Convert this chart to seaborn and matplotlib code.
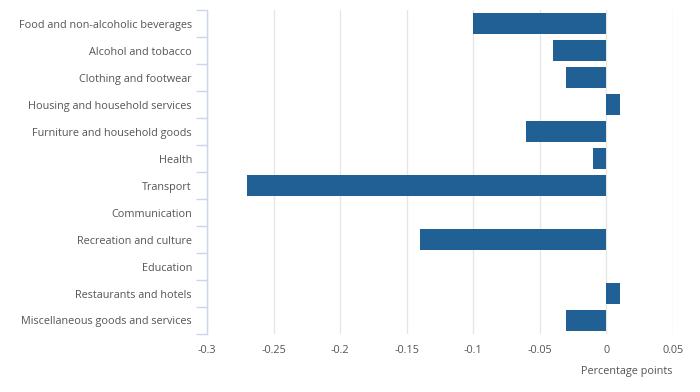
import pandas as pd
import matplotlib.pyplot as plt
import matplotlib.ticker as mticker
import seaborn as sns

categorias = [
    "Food and non-alcoholic beverages",
    "Alcohol and tobacco",
    "Clothing and footwear",
    "Housing and household services",
    "Furniture and household goods",
    "Health",
    "Transport",
    "Communication",
    "Recreation and culture",
    "Education",
    "Restaurants and hotels",
    "Miscellaneous goods and services",
]
valores = [-0.10, -0.04, -0.03, 0.01, -0.06, -0.01, -0.27, 0.0, -0.14, 0.0, 0.01, -0.03]
xticks = [-0.3, -0.25, -0.2, -0.15, -0.1, -0.05, 0, 0.05]
xtick_labels = ["-0.3", "-0.25", "-0.2", "-0.15", "-0.1", "-0.05", "0", "0.05"]

df = pd.DataFrame({"Categoria": categorias, "Valor": valores})

sns.set_style("white")
plt.rcParams['font.family'] = ['Open Sans', 'DejaVu Sans']

texto = "#555555"
eixo = "#ccd6eb"
tam = 7.85

fig = plt.figure(figsize=(7, 3.92), dpi=100)
ax = fig.add_axes([0.296, 0.148, 0.665, 0.826])

sns.barplot(data=df, x="Valor", y="Categoria", orient="h", color="#206095",
            saturation=1, width=0.78, linewidth=0, ax=ax)

ax.set_xlim(-0.3, 0.05)
ax.set_ylim(len(categorias) - 0.5, -0.5)
ax.set_xticks(xticks)
ax.set_xticklabels(xtick_labels)

# grade vertical
ax.xaxis.grid(True, color="#e6e6e6", linewidth=1)
ax.set_axisbelow(True)

for lado in ["top", "right", "bottom"]:
    ax.spines[lado].set_visible(False)
ax.spines["left"].set_color(eixo)
ax.spines["left"].set_linewidth(1)

# marcas nos limites das categorias
ax.yaxis.set_minor_locator(mticker.FixedLocator([i - 0.5 for i in range(len(categorias) + 1)]))
ax.tick_params(axis="y", which="minor", left=True, length=8, color=eixo, width=1)
ax.tick_params(axis="y", which="major", left=True, length=0, pad=11, labelsize=tam, labelcolor=texto)
ax.tick_params(axis="x", length=0, pad=8, labelsize=tam, labelcolor=texto)

ax.set_ylabel("")
ax.set_xlabel("Percentage points", loc="right", fontsize=tam, color=texto, labelpad=7)

plt.savefig("out.png", dpi=100)
